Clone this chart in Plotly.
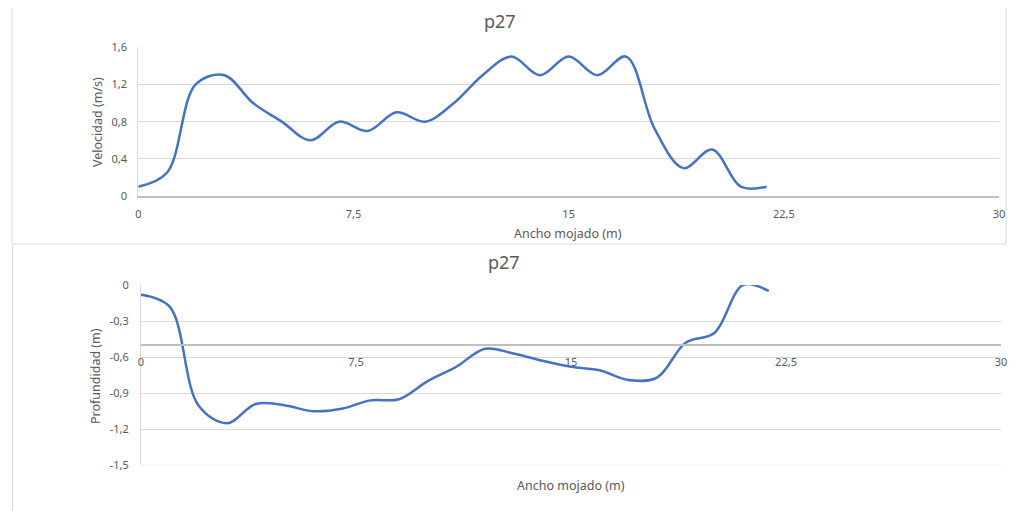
import plotly.graph_objects as go

# page has an 8px body margin: figure drawn at (8,8), so size it to the remaining window
OFF = 8
W, H = 1016 - OFF, 511 - OFF

# ---- data ----
ancho = [0, 1, 2, 3, 4, 5, 6, 7, 8, 9, 10, 11, 12, 13, 14, 15, 16, 17, 18, 19, 20, 21, 21.9]
velocidad = [0.1, 0.25, 1.2, 1.3, 1.0, 0.8, 0.6, 0.8, 0.7, 0.9, 0.8, 1.0, 1.3, 1.5, 1.3, 1.5, 1.3, 1.5, 0.72, 0.3, 0.5, 0.1, 0.1]
profundidad = [-0.08, -0.18, -1.0, -1.15, -0.99, -1.0, -1.05, -1.03, -0.96, -0.95, -0.8, -0.68, -0.53, -0.57, -0.63, -0.68, -0.71, -0.79, -0.77, -0.48, -0.4, 0.0, -0.05]

x_ticks = [0, 7.5, 15, 22.5, 30]
x_tick_text = ["0", "7,5", "15", "22,5", "30"]
vel_ticks = [0, 0.4, 0.8, 1.2, 1.6]
vel_tick_text = ["0", "0,4", "0,8", "1,2", "1,6"]
prof_ticks = [0, -0.3, -0.6, -0.9, -1.2, -1.5]
prof_tick_text = ["0", "-0,3", "-0,6", "-0,9", "-1,2", "-1,5"]

titulo = "p27"
x_titulo = "Ancho mojado (m)"
y_titulo_vel = "Velocidad (m/s)"
y_titulo_prof = "Profundidad (m)"

TXT = "#595959"
GRID = "#d9d9d9"
AXL = "#bfbfbf"
LINE = "#4472C4"
FONT = "Noto Sans"


def px(v):
    return (v - OFF) / W


def py(v):
    return 1 - (v - OFF) / H


fig = go.Figure()
fig.add_trace(go.Scatter(x=ancho, y=velocidad, mode="lines",
                         line=dict(color=LINE, width=2.5, shape="spline", smoothing=1),
                         xaxis="x", yaxis="y", showlegend=False, hoverinfo="skip"))
fig.add_trace(go.Scatter(x=ancho, y=profundidad, mode="lines",
                         line=dict(color=LINE, width=2.5, shape="spline", smoothing=1),
                         xaxis="x2", yaxis="y2", showlegend=False, hoverinfo="skip"))

tickfont = dict(family=FONT, size=11, color=TXT)

# bottom axis crosses at -0.5
y2_top, y2_bot = 285.0, 465.3
cross_px = y2_top + (0 - (-0.5)) / 1.5 * (y2_bot - y2_top)

common = dict(automargin=False, fixedrange=True, zeroline=False, tickfont=tickfont,
              ticks="outside", tickcolor="rgba(0,0,0,0)")

fig.update_layout(
    width=W, height=H,
    margin=dict(l=0, r=0, t=0, b=0, autoexpand=False),
    paper_bgcolor="white", plot_bgcolor="white",
    font=dict(family=FONT, color=TXT),
    xaxis=dict(domain=[px(138.3), px(999)], range=[0, 30], anchor="y",
               tickvals=x_ticks, ticktext=x_tick_text,
               showgrid=False, showline=True, linecolor=AXL, linewidth=1.5,
               ticklen=7, **common),
    yaxis=dict(domain=[py(196), py(47.3)], range=[0, 1.6], anchor="x",
               tickvals=vel_ticks, ticktext=vel_tick_text,
               showgrid=True, gridcolor=GRID, gridwidth=1,
               showline=True, linecolor=GRID, linewidth=1,
               ticklen=8, **common),
    xaxis2=dict(domain=[px(141), px(1001)], range=[0, 30], anchor="free", position=py(cross_px),
                tickvals=x_ticks, ticktext=x_tick_text,
                showgrid=False, showline=True, linecolor=AXL, linewidth=1.5,
                ticklen=7, **common),
    yaxis2=dict(domain=[py(y2_bot), py(y2_top)], range=[-1.5, 0], anchor="x2",
                tickvals=prof_ticks, ticktext=prof_tick_text,
                showgrid=True, gridcolor=GRID, gridwidth=1,
                showline=True, linecolor=GRID, linewidth=1,
                ticklen=9, **common),
)

ann = []
ann.append(dict(text=titulo, x=px(500), y=py(21), font=dict(family=FONT, size=18, color=TXT)))
ann.append(dict(text=titulo, x=px(504), y=py(262), font=dict(family=FONT, size=18, color=TXT)))
ann.append(dict(text=x_titulo, x=px(568), y=py(233), font=dict(family=FONT, size=12.5, color=TXT)))
ann.append(dict(text=x_titulo, x=px(571), y=py(485), font=dict(family=FONT, size=12.5, color=TXT)))
ann.append(dict(text=y_titulo_vel, x=px(97), y=py(122), textangle=-90, font=dict(family=FONT, size=12.5, color=TXT)))
ann.append(dict(text=y_titulo_prof, x=px(95), y=py(376), textangle=-90, font=dict(family=FONT, size=12.5, color=TXT)))
for a in ann:
    a.update(xref="paper", yref="paper", xanchor="center", yanchor="middle", showarrow=False)
fig.update_layout(annotations=ann)

fig.update_layout(shapes=[
    dict(type="rect", xref="paper", yref="paper", x0=px(12), x1=px(1006), y0=py(244), y1=py(4),
         line=dict(color=GRID, width=1), fillcolor="rgba(0,0,0,0)", layer="below"),
    dict(type="line", xref="paper", yref="paper", x0=px(12.7), x1=px(12.7), y0=py(511), y1=py(245),
         line=dict(color=GRID, width=1), layer="below"),
    # lowest gridline of the depth chart (at the last tick value)
    dict(type="line", xref="x2", yref="y2", x0=x_ticks[0], x1=x_ticks[-1],
         y0=prof_ticks[-1], y1=prof_ticks[-1], line=dict(color=GRID, width=1), layer="below"),
])

fig.write_html("out.html")
